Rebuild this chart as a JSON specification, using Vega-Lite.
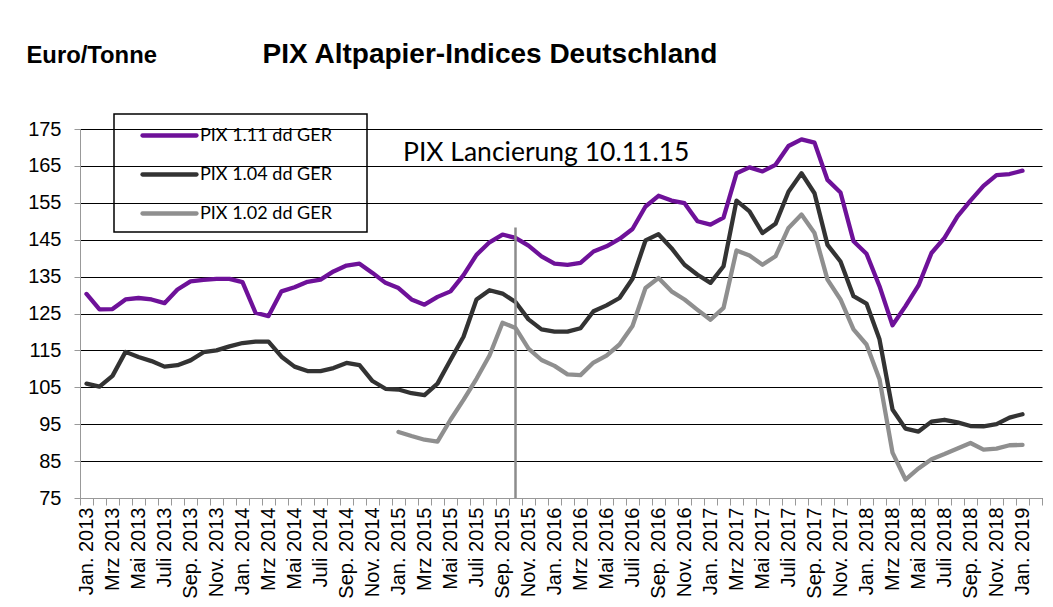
{
  "$schema": "https://vega.github.io/schema/vega-lite/v6.json",
  "width": 962,
  "height": 369,
  "autosize": {"type": "none"},
  "padding": {"left": 80, "top": 129, "right": 11, "bottom": 109},
  "background": "white",
  "title": {"text": "PIX Altpapier-Indices Deutschland", "font": "Liberation Sans", "fontSize": 28, "fontWeight": "bold", "color": "#000000", "anchor": "middle", "frame": "group", "dx": -71, "offset": 40, "dy": 88, "baseline": "alphabetic"},
  "config": {
    "view": {"stroke": null},
    "axis": {"labelFont": "Liberation Sans", "labelFontSize": 20, "labelColor": "#000000", "domainColor": "#999999", "tickColor": "#999999"}
  },
  "data": {"values": [
    {"m": "Jan. 2013", "p111": 130.3, "p104": 106.0},
    {"m": "Feb. 2013", "p111": 126.1, "p104": 105.2},
    {"m": "Mrz 2013", "p111": 126.2, "p104": 108.1},
    {"m": "Apr. 2013", "p111": 128.8, "p104": 114.6},
    {"m": "Mai 2013", "p111": 129.2, "p104": 113.2},
    {"m": "Juni 2013", "p111": 128.8, "p104": 112.1},
    {"m": "Juli 2013", "p111": 127.8, "p104": 110.6},
    {"m": "Aug. 2013", "p111": 131.5, "p104": 111.0},
    {"m": "Sep. 2013", "p111": 133.7, "p104": 112.3},
    {"m": "Okt. 2013", "p111": 134.1, "p104": 114.5},
    {"m": "Nov. 2013", "p111": 134.4, "p104": 115.0},
    {"m": "Dez. 2013", "p111": 134.4, "p104": 116.1},
    {"m": "Jan. 2014", "p111": 133.5, "p104": 117.0},
    {"m": "Feb. 2014", "p111": 125.2, "p104": 117.4},
    {"m": "Mrz 2014", "p111": 124.3, "p104": 117.4},
    {"m": "Apr. 2014", "p111": 131.0, "p104": 113.3},
    {"m": "Mai 2014", "p111": 132.1, "p104": 110.6},
    {"m": "Juni 2014", "p111": 133.6, "p104": 109.4},
    {"m": "Juli 2014", "p111": 134.2, "p104": 109.4},
    {"m": "Aug. 2014", "p111": 136.4, "p104": 110.2},
    {"m": "Sep. 2014", "p111": 138.0, "p104": 111.6},
    {"m": "Okt. 2014", "p111": 138.5, "p104": 111.0},
    {"m": "Nov. 2014", "p111": 136.0, "p104": 106.7},
    {"m": "Dez. 2014", "p111": 133.3, "p104": 104.6},
    {"m": "Jan. 2015", "p111": 131.9, "p104": 104.4, "p102": 92.9},
    {"m": "Feb. 2015", "p111": 128.8, "p104": 103.4, "p102": 91.8},
    {"m": "Mrz 2015", "p111": 127.4, "p104": 102.9, "p102": 90.8},
    {"m": "Apr. 2015", "p111": 129.5, "p104": 106.0, "p102": 90.3},
    {"m": "Mai 2015", "p111": 131.0, "p104": 112.4, "p102": 96.2},
    {"m": "Juni 2015", "p111": 135.4, "p104": 118.7, "p102": 101.6},
    {"m": "Juli 2015", "p111": 140.9, "p104": 128.8, "p102": 107.3},
    {"m": "Aug. 2015", "p111": 144.3, "p104": 131.3, "p102": 113.6},
    {"m": "Sep. 2015", "p111": 146.4, "p104": 130.4, "p102": 122.5},
    {"m": "Okt. 2015", "p111": 145.5, "p104": 128.1, "p102": 121.1},
    {"m": "Nov. 2015", "p111": 143.4, "p104": 123.4, "p102": 115.5},
    {"m": "Dez. 2015", "p111": 140.5, "p104": 120.7, "p102": 112.4},
    {"m": "Jan. 2016", "p111": 138.5, "p104": 120.1, "p102": 110.8},
    {"m": "Feb. 2016", "p111": 138.2, "p104": 120.1, "p102": 108.5},
    {"m": "Mrz 2016", "p111": 138.7, "p104": 121.0, "p102": 108.3},
    {"m": "Apr. 2016", "p111": 141.8, "p104": 125.6, "p102": 111.7},
    {"m": "Mai 2016", "p111": 143.2, "p104": 127.2, "p102": 113.6},
    {"m": "Juni 2016", "p111": 145.2, "p104": 129.2, "p102": 116.6},
    {"m": "Juli 2016", "p111": 147.9, "p104": 134.4, "p102": 121.6},
    {"m": "Aug. 2016", "p111": 154.0, "p104": 144.8, "p102": 131.9},
    {"m": "Sep. 2016", "p111": 156.9, "p104": 146.5, "p102": 134.6},
    {"m": "Okt. 2016", "p111": 155.6, "p104": 142.7, "p102": 131.0},
    {"m": "Nov. 2016", "p111": 154.9, "p104": 138.2, "p102": 128.8},
    {"m": "Dez. 2016", "p111": 150.0, "p104": 135.5, "p102": 126.0},
    {"m": "Jan. 2017", "p111": 149.1, "p104": 133.3, "p102": 123.3},
    {"m": "Feb. 2017", "p111": 151.0, "p104": 137.8, "p102": 126.5},
    {"m": "Mrz 2017", "p111": 163.0, "p104": 155.6, "p102": 142.1},
    {"m": "Apr. 2017", "p111": 164.6, "p104": 152.7, "p102": 140.7},
    {"m": "Mai 2017", "p111": 163.5, "p104": 146.8, "p102": 138.2},
    {"m": "Juni 2017", "p111": 165.3, "p104": 149.3, "p102": 140.5},
    {"m": "Juli 2017", "p111": 170.4, "p104": 158.0, "p102": 148.2},
    {"m": "Aug. 2017", "p111": 172.2, "p104": 163.0, "p102": 151.8},
    {"m": "Sep. 2017", "p111": 171.3, "p104": 157.6, "p102": 146.8},
    {"m": "Okt. 2017", "p111": 161.2, "p104": 143.6, "p102": 134.2},
    {"m": "Nov. 2017", "p111": 157.8, "p104": 139.1, "p102": 128.8},
    {"m": "Dez. 2017", "p111": 144.6, "p104": 129.7, "p102": 120.7},
    {"m": "Jan. 2018", "p111": 141.2, "p104": 127.7, "p102": 116.6},
    {"m": "Feb. 2018", "p111": 132.4, "p104": 118.0, "p102": 107.2},
    {"m": "Mrz 2018", "p111": 121.8, "p104": 99.0, "p102": 87.3},
    {"m": "Apr. 2018", "p111": 127.0, "p104": 93.8, "p102": 80.0},
    {"m": "Mai 2018", "p111": 132.6, "p104": 93.0, "p102": 83.0},
    {"m": "Juni 2018", "p111": 141.4, "p104": 95.7, "p102": 85.5},
    {"m": "Juli 2018", "p111": 145.5, "p104": 96.2, "p102": 86.9},
    {"m": "Aug. 2018", "p111": 151.3, "p104": 95.5, "p102": 88.4},
    {"m": "Sep. 2018", "p111": 155.6, "p104": 94.5, "p102": 89.9},
    {"m": "Okt. 2018", "p111": 159.6, "p104": 94.4, "p102": 88.1},
    {"m": "Nov. 2018", "p111": 162.5, "p104": 95.0, "p102": 88.4},
    {"m": "Dez. 2018", "p111": 162.8, "p104": 96.8, "p102": 89.3},
    {"m": "Jan. 2019", "p111": 163.7, "p104": 97.7, "p102": 89.4}
  ]},
  "layer": [
    {
      "transform": [
        {"fold": ["p111", "p104", "p102"], "as": ["s", "v"]},
        {"filter": "isValid(datum.v)"}
      ],
      "mark": {"type": "line", "strokeWidth": 4.3, "strokeJoin": "round", "strokeCap": "round"},
      "encoding": {
        "x": {
          "field": "m", "type": "ordinal", "sort": null,
          "scale": {"domain": ["Jan. 2013","Feb. 2013","Mrz 2013","Apr. 2013","Mai 2013","Juni 2013","Juli 2013","Aug. 2013","Sep. 2013","Okt. 2013","Nov. 2013","Dez. 2013","Jan. 2014","Feb. 2014","Mrz 2014","Apr. 2014","Mai 2014","Juni 2014","Juli 2014","Aug. 2014","Sep. 2014","Okt. 2014","Nov. 2014","Dez. 2014","Jan. 2015","Feb. 2015","Mrz 2015","Apr. 2015","Mai 2015","Juni 2015","Juli 2015","Aug. 2015","Sep. 2015","Okt. 2015","Nov. 2015","Dez. 2015","Jan. 2016","Feb. 2016","Mrz 2016","Apr. 2016","Mai 2016","Juni 2016","Juli 2016","Aug. 2016","Sep. 2016","Okt. 2016","Nov. 2016","Dez. 2016","Jan. 2017","Feb. 2017","Mrz 2017","Apr. 2017","Mai 2017","Juni 2017","Juli 2017","Aug. 2017","Sep. 2017","Okt. 2017","Nov. 2017","Dez. 2017","Jan. 2018","Feb. 2018","Mrz 2018","Apr. 2018","Mai 2018","Juni 2018","Juli 2018","Aug. 2018","Sep. 2018","Okt. 2018","Nov. 2018","Dez. 2018","Jan. 2019","Feb. 2019"], "type": "band", "paddingInner": 0, "paddingOuter": 0},
          "axis": {
            "title": null, "labelAngle": -90, "labelAlign": "right", "labelBaseline": "middle",
            "labelPadding": 2, "tickSize": 7, "tickBand": "extent", "grid": false, "labelOverlap": false, "zindex": 1,
            "labelExpr": "indexof(['Jan.','Mrz','Mai','Juli','Sep.','Nov.'], split(datum.label, ' ')[0]) >= 0 ? datum.label : ''"
          }
        },
        "y": {
          "field": "v", "type": "quantitative",
          "scale": {"domain": [75, 175], "nice": false, "zero": false},
          "axis": {
            "values": [75, 85, 95, 105, 115, 125, 135, 145, 155, 165, 175], "tickCount": 20,
            "grid": true, "gridColor": "#000000", "gridWidth": 1, "labelOverlap": false,
            "tickSize": 6, "labelPadding": 13,
            "title": "Euro/Tonne", "titleAngle": 0, "titleAlign": "left", "titleBaseline": "alphabetic",
            "titleX": -54, "titleY": -67, "titleFont": "Liberation Sans", "titleFontSize": 23.8, "titleFontWeight": "bold", "titleColor": "#000000"
          }
        },
        "color": {
          "field": "s", "type": "nominal",
          "scale": {"domain": ["p111", "p104", "p102"], "range": ["#6e1199", "#333333", "#8f8f8f"]},
          "legend": {
            "orient": "none", "legendX": 34, "legendY": -15,
            "title": "\u00a0", "titleOrient": "left", "titlePadding": 14, "titleFontSize": 18,
            "symbolType": "M-2.7,0L2.7,0", "symbolSize": 400, "symbolStrokeWidth": 4.3,
            "symbolOffset": 20, "labelOffset": 18, "rowPadding": 17, "padding": 9,
            "strokeColor": "#000000", "labelLimit": 400,
            "labelFont": "Lato", "labelFontSize": 18, "labelColor": "#000000",
            "labelExpr": "(datum.label == 'p111' ? 'PIX 1.11 dd GER' : datum.label == 'p104' ? 'PIX 1.04 dd GER' : 'PIX 1.02 dd GER') + '\u2800\u2800'",
            "encode": {"legend": {"update": {"strokeWidth": {"value": 1.5}}}, "symbols": {"update": {"strokeCap": {"value": "round"}}}}
          }
        },
        "order": {"field": "s", "sort": "ascending"}
      }
    },
    {
      "data": {"values": [{}]},
      "mark": {"type": "rule", "color": "#8c8c8c", "strokeWidth": 2.5},
      "encoding": {
        "x": {"datum": "Okt. 2015", "type": "ordinal"},
        "y": {"datum": 75, "type": "quantitative"},
        "y2": {"datum": 148.3}
      }
    },
    {
      "data": {"values": [{}]},
      "mark": {"type": "text", "text": "PIX Lancierung 10.11.15", "font": "Lato", "fontSize": 26.5, "align": "left", "baseline": "alphabetic", "dx": 4.5, "color": "#000000"},
      "encoding": {
        "x": {"datum": "Jan. 2015", "type": "ordinal"},
        "y": {"datum": 166.4, "type": "quantitative"}
      }
    }
  ]
}
